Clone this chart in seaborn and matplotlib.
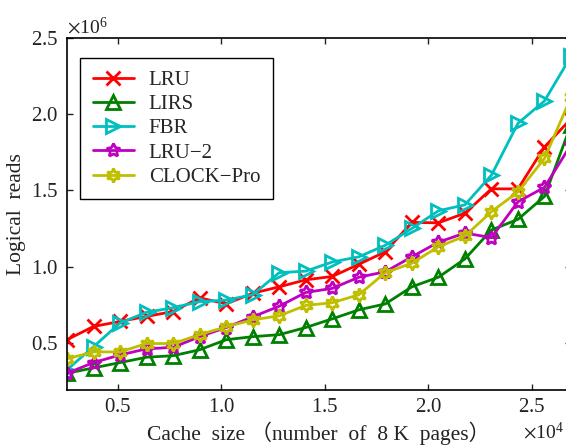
import numpy as np
import pandas as pd
import matplotlib
matplotlib.use("Agg")
import matplotlib.pyplot as plt
import seaborn as sns
from matplotlib.ticker import ScalarFormatter, FixedLocator

# ---- data (logical reads in units of 1e6) ----
cache_sizes = [2560, 3840, 5120, 6400, 7680, 8960, 10240, 11520, 12800, 14080,
               15360, 16640, 17920, 19200, 20480, 21760, 23040, 24320, 25600, 26880]
lru = [0.52, 0.607, 0.64, 0.673, 0.705, 0.795, 0.755, 0.825, 0.867, 0.913,
       0.935, 1.015, 1.097, 1.29, 1.287, 1.35, 1.51, 1.51, 1.785, 1.97]
lirs = [0.30, 0.335, 0.37, 0.405, 0.415, 0.454, 0.52, 0.54, 0.553, 0.60,
        0.657, 0.716, 0.755, 0.867, 0.93, 1.05, 1.24, 1.31, 1.46, 1.93]
fbr = [0.323, 0.474, 0.63, 0.70, 0.73, 0.77, 0.78, 0.815, 0.96, 0.97,
       1.03, 1.064, 1.14, 1.25, 1.366, 1.405, 1.60, 1.94, 2.087, 2.38]
lru2 = [0.30, 0.37, 0.42, 0.46, 0.47, 0.54, 0.60, 0.67, 0.74, 0.83,
        0.857, 0.93, 0.966, 1.064, 1.16, 1.22, 1.19, 1.425, 1.52, 1.80]
clockpro = [0.395, 0.44, 0.44, 0.495, 0.495, 0.553, 0.605, 0.65, 0.677, 0.745,
            0.763, 0.815, 0.96, 1.022, 1.13, 1.20, 1.36, 1.49, 1.71, 2.11]

series_names = ["LRU", "LIRS", "FBR", "LRU\u22122", "CLOCK\u2212Pro"]
series_values = [lru, lirs, fbr, lru2, clockpro]
series_colors = ["#ff0000", "#008000", "#00bfbf", "#bf00bf", "#bfbf00"]
series_markers = ["x", "^", ">", (5, 1, 0), (6, 1, 0)]

x_ticks = [5000, 10000, 15000, 20000, 25000]
y_ticks = [0.5e6, 1.0e6, 1.5e6, 2.0e6, 2.5e6]

# ---- style ----
sns.set_theme(style="ticks", color_codes=False)
plt.rcParams["font.family"] = ["Liberation Serif", "Noto Sans CJK SC"]
plt.rcParams["mathtext.fontset"] = "stix"
plt.rcParams["axes.linewidth"] = 1.2

fig = plt.figure(figsize=(5.66, 4.48), dpi=100)
ax = fig.add_axes([67 / 566, 58 / 448, 504 / 566, 352 / 448])

for name, vals, color, marker in zip(series_names, series_values,
                                     series_colors, series_markers):
    df = pd.DataFrame({"cache": cache_sizes,
                       "reads": np.array(vals) * 1e6})
    sns.lineplot(data=df, x="cache", y="reads", ax=ax, color=color,
                 marker=marker, markersize=10, markerfacecolor="none",
                 markeredgecolor=color, markeredgewidth=2.0, linewidth=2.0,
                 label=name)

ax.set_xlim(2560, 26880)
ax.set_ylim(0.19e6, 2.5e6)
ax.xaxis.set_major_locator(FixedLocator(x_ticks))
ax.yaxis.set_major_locator(FixedLocator(y_ticks))
for axis in (ax.xaxis, ax.yaxis):
    fmt = ScalarFormatter(useMathText=True)
    fmt.set_powerlimits((0, 0))
    axis.set_major_formatter(fmt)

ax.tick_params(direction="in", top=True, right=True, length=4, width=1,
               labelsize=15, colors="#222222", pad=6)
for sp in ax.spines.values():
    sp.set_color("black")
ax.xaxis.get_offset_text().set_fontsize(14)
ax.yaxis.get_offset_text().set_fontsize(14)
ax.xaxis.get_offset_text().set_x(0.985)

ax.set_xlabel("Cache  size \uff08number  of  8 K  pages\uff09", fontsize=15.5,
              labelpad=3, color="#222222")
ax.set_ylabel("Logical  reads", fontsize=15.5, labelpad=4, color="#222222")

leg = ax.legend(loc="upper left", bbox_to_anchor=(0.026, 0.943),
                borderaxespad=0, fontsize=15, frameon=True, fancybox=False,
                edgecolor="black", framealpha=1, handlelength=2.0,
                handletextpad=0.7, labelspacing=0.22, borderpad=0.6)
leg.get_frame().set_linewidth(1.0)

fig.savefig("out.png", dpi=100)
